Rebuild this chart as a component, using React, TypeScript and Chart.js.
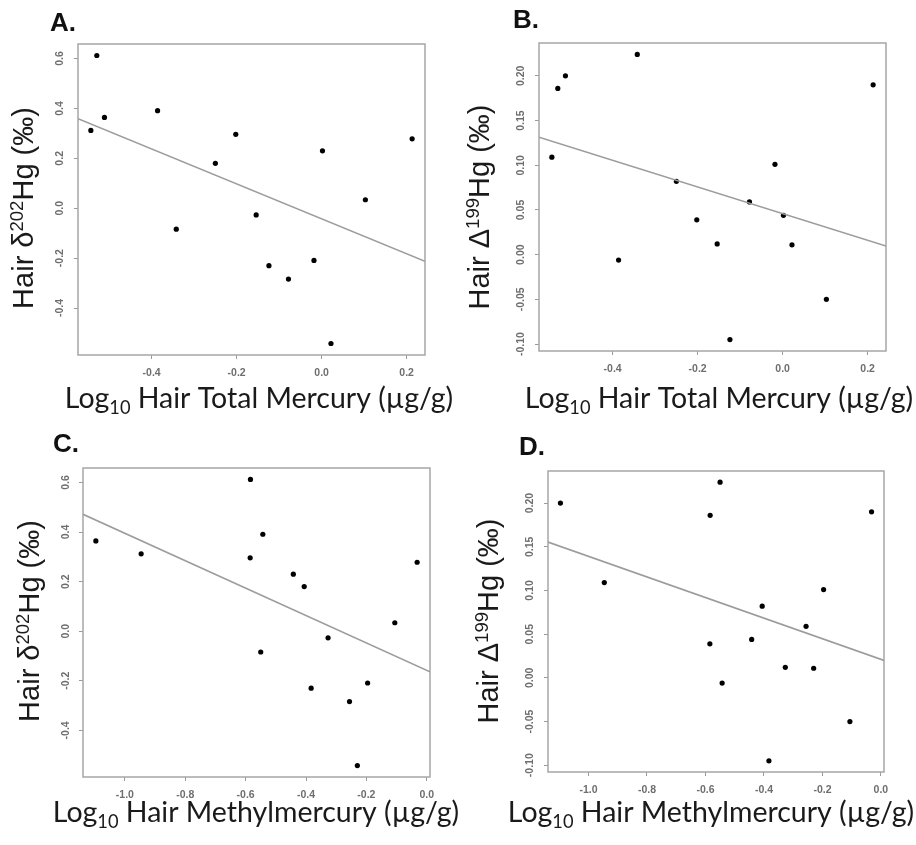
import React, { useEffect, useRef } from 'react';
import { Chart, registerables } from 'chart.js';

Chart.register(...registerables);

// ---- data (one entry per subject) ----
const logTotalHg = [-0.543, -0.529, -0.511, -0.386, -0.342, -0.250, -0.202, -0.154, -0.124, -0.078, -0.018, 0.002, 0.022, 0.103, 0.213];
const logMethylHg = [-0.946, -0.584, -1.096, -0.543, -0.550, -0.406, -0.585, -0.327, -0.383, -0.256, -0.196, -0.442, -0.230, -0.106, -0.032];
const delta202Hg = [0.312, 0.612, 0.364, 0.391, -0.084, 0.180, 0.296, -0.027, -0.230, -0.284, -0.209, 0.230, -0.542, 0.034, 0.278];
const cap199Hg = [0.109, 0.186, 0.200, -0.006, 0.224, 0.082, 0.039, 0.012, -0.095, 0.059, 0.101, 0.044, 0.011, -0.050, 0.190];

// ---- tick labels ----
const ticksTotalHg = [-0.4, -0.2, 0.0, 0.2];
const ticksMethylHg = [-1.0, -0.8, -0.6, -0.4, -0.2, 0.0];
const ticksDelta202 = [-0.4, -0.2, 0.0, 0.2, 0.4, 0.6];
const ticksCap199 = [-0.10, -0.05, 0.0, 0.05, 0.10, 0.15, 0.20];

type Seg = { t: string; k?: 'sup' | 'sub' };

const xLabelTotal: Seg[] = [{ t: 'Log' }, { t: '10', k: 'sub' }, { t: ' Hair Total Mercury (\u00b5g/g)' }];
const xLabelMethyl: Seg[] = [{ t: 'Log' }, { t: '10', k: 'sub' }, { t: ' Hair Methylmercury (\u00b5g/g)' }];
const yLabelDelta: Seg[] = [{ t: 'Hair \u03b4' }, { t: '202', k: 'sup' }, { t: 'Hg (\u2030)' }];
const yLabelCap: Seg[] = [{ t: 'Hair \u0394' }, { t: '199', k: 'sup' }, { t: 'Hg (\u2030)' }];

type Panel = {
  letter: string;
  xs: number[];
  ys: number[];
  xTicks: number[];
  yTicks: number[];
  xDec: number;
  yDec: number;
  xLabel: Seg[];
  yLabel: Seg[];
  left: number; top: number; w: number; h: number;
  area: { L: number; T: number; R: number; B: number };
  yTickPad: number;
  letterPos: [number, number];
  yLabelPos: [number, number];
  xLabelPos: [number, number];
};

const panels: Panel[] = [
  {
    letter: 'A.', xs: logTotalHg, ys: delta202Hg, xTicks: ticksTotalHg, yTicks: ticksDelta202, xDec: 1, yDec: 1,
    xLabel: xLabelTotal, yLabel: yLabelDelta,
    left: 0, top: 0, w: 470, h: 422, area: { L: 78, T: 44, R: 425, B: 355 }, yTickPad: 5,
    letterPos: [50, 31], yLabelPos: [33, 208], xLabelPos: [259, 408],
  },
  {
    letter: 'B.', xs: logTotalHg, ys: cap199Hg, xTicks: ticksTotalHg, yTicks: ticksCap199, xDec: 1, yDec: 2,
    xLabel: xLabelTotal, yLabel: yLabelCap,
    left: 458, top: 0, w: 458, h: 422, area: { L: 81, T: 43, R: 428, B: 351 }, yTickPad: 2.3,
    letterPos: [55, 28], yLabelPos: [31, 207], xLabelPos: [261, 408],
  },
  {
    letter: 'C.', xs: logMethylHg, ys: delta202Hg, xTicks: ticksMethylHg, yTicks: ticksDelta202, xDec: 1, yDec: 1,
    xLabel: xLabelMethyl, yLabel: yLabelDelta,
    left: 0, top: 422, w: 470, h: 423, area: { L: 83, T: 46, R: 430, B: 355 }, yTickPad: 4,
    letterPos: [53, 30], yLabelPos: [39, 199], xLabelPos: [256, 400],
  },
  {
    letter: 'D.', xs: logMethylHg, ys: cap199Hg, xTicks: ticksMethylHg, yTicks: ticksCap199, xDec: 1, yDec: 2,
    xLabel: xLabelMethyl, yLabel: yLabelCap,
    left: 458, top: 422, w: 458, h: 423, area: { L: 90, T: 49, R: 426, B: 350 }, yTickPad: 2.3,
    letterPos: [61, 33], yLabelPos: [40, 199], xLabelPos: [253, 400],
  },
];

function rRange(v: number[]): [number, number] {
  const mn = Math.min(...v);
  const mx = Math.max(...v);
  const d = (mx - mn) * 0.04;
  return [mn - d, mx + d];
}

function ols(xs: number[], ys: number[]) {
  const n = xs.length;
  const mx = xs.reduce((a, b) => a + b, 0) / n;
  const my = ys.reduce((a, b) => a + b, 0) / n;
  let sxy = 0, sxx = 0;
  for (let i = 0; i < n; i++) {
    sxy += (xs[i] - mx) * (ys[i] - my);
    sxx += (xs[i] - mx) * (xs[i] - mx);
  }
  const b = sxy / sxx;
  return { a: my - b * mx, b };
}

function drawRich(ctx: CanvasRenderingContext2D, segs: Seg[], family: string, size: number, weight: string, cx: number, baseY: number) {
  const parts = segs.map((s) => {
    const fs = s.k ? size * 0.64 : size;
    ctx.font = `${weight} ${fs}px ${family}`;
    return { ...s, fs, w: ctx.measureText(s.t).width };
  });
  const total = parts.reduce((a, p) => a + p.w, 0);
  let x = cx - total / 2;
  ctx.textAlign = 'left';
  ctx.textBaseline = 'alphabetic';
  for (const p of parts) {
    ctx.font = `${weight} ${p.fs}px ${family}`;
    const dy = p.k === 'sup' ? -size * 0.33 : p.k === 'sub' ? size * 0.2 : 0;
    ctx.fillText(p.t, x, baseY + dy);
    x += p.w;
  }
}

function PanelChart({ p }: { p: Panel }) {
  const ref = useRef<HTMLCanvasElement | null>(null);
  useEffect(() => {
    if (!ref.current) return;
    const xr = rRange(p.xs);
    const yr = rRange(p.ys);
    const fit = ols(p.xs, p.ys);
    const tickFont = { family: '"Liberation Sans", Arial, sans-serif', size: 10.5, weight: 'bold' as const };
    const grey = '#9a9a9a';
    const tickColor = '#6e6e6e';

    const boxPlugin = {
      id: 'box',
      beforeDatasetsDraw(chart: any) {
        const { ctx, chartArea: a } = chart;
        ctx.save();
        ctx.strokeStyle = '#a6a6a6';
        ctx.lineWidth = 1.5;
        ctx.strokeRect(a.left, a.top, a.right - a.left, a.bottom - a.top);
        ctx.restore();
      },
    };
    const textPlugin = {
      id: 'texts',
      afterDraw(chart: any) {
        const ctx = chart.ctx as CanvasRenderingContext2D;
        ctx.save();
        ctx.fillStyle = '#111';
        ctx.font = 'bold 26px "Liberation Sans", Arial, sans-serif';
        ctx.textAlign = 'left';
        ctx.textBaseline = 'alphabetic';
        ctx.fillText(p.letter, p.letterPos[0], p.letterPos[1]);
        ctx.fillStyle = '#1a1a1a';
        drawRich(ctx, p.xLabel, 'Lato, "Open Sans", sans-serif', 28.5, 'normal', p.xLabelPos[0], p.xLabelPos[1]);
        ctx.save();
        ctx.translate(p.yLabelPos[0], p.yLabelPos[1]);
        ctx.rotate(-Math.PI / 2);
        drawRich(ctx, p.yLabel, '"Liberation Sans", Arial, sans-serif', 29, 'normal', 0, 0);
        ctx.restore();
        ctx.restore();
      },
    };

    const chart = new Chart(ref.current, {
      type: 'scatter',
      data: {
        datasets: [
          {
            type: 'line',
            data: [
              { x: xr[0], y: fit.a + fit.b * xr[0] },
              { x: xr[1], y: fit.a + fit.b * xr[1] },
            ],
            borderColor: '#9c9c9c',
            borderWidth: 1.6,
            pointRadius: 0,
            fill: false,
          } as any,
          {
            data: p.xs.map((x, i) => ({ x, y: p.ys[i] })),
            backgroundColor: '#000',
            borderColor: '#000',
            borderWidth: 0,
            pointRadius: 2.6,
          },
        ],
      },
      options: {
        responsive: false,
        animation: false,
        devicePixelRatio: 1,
        layout: { padding: { left: 0, top: p.area.T, right: p.w - p.area.R, bottom: 0 } },
        plugins: { legend: { display: false }, tooltip: { enabled: false }, title: { display: false } },
        scales: {
          x: {
            type: 'linear',
            position: 'bottom',
            min: xr[0],
            max: xr[1],
            afterBuildTicks: (s: any) => { s.ticks = p.xTicks.map((v) => ({ value: v })); },
            afterFit: (s: any) => { s.height = p.h - p.area.B; },
            grid: { drawOnChartArea: false, drawTicks: true, tickLength: 4, color: grey, lineWidth: 1 },
            border: { display: false },
            ticks: {
              font: tickFont,
              color: tickColor,
              padding: 8,
              maxRotation: 0,
              autoSkip: false,
              callback: (v: any) => Number(v).toFixed(p.xDec),
            },
          },
          y: {
            type: 'linear',
            min: yr[0],
            max: yr[1],
            afterBuildTicks: (s: any) => { s.ticks = p.yTicks.map((v) => ({ value: v })); },
            afterFit: (s: any) => { s.width = p.area.L; },
            grid: { drawOnChartArea: false, drawTicks: true, tickLength: 4, color: grey, lineWidth: 1 },
            border: { display: false },
            ticks: {
              font: tickFont,
              color: tickColor,
              padding: p.yTickPad,
              minRotation: 90,
              maxRotation: 90,
              crossAlign: 'center',
              autoSkip: false,
              callback: (v: any) => Number(v).toFixed(p.yDec),
            },
          },
        },
      },
      plugins: [boxPlugin, textPlugin],
    });
    return () => chart.destroy();
  }, [p]);
  return (
    <canvas
      ref={ref}
      width={p.w}
      height={p.h}
      style={{ position: 'absolute', left: p.left, top: p.top, width: p.w, height: p.h }}
    />
  );
}

export default function App() {
  return (
    <div style={{ position: 'absolute', left: 0, top: 0, width: 916, height: 845, background: '#fff' }}>
      {panels.map((p) => (
        <PanelChart key={p.letter} p={p} />
      ))}
    </div>
  );
}
